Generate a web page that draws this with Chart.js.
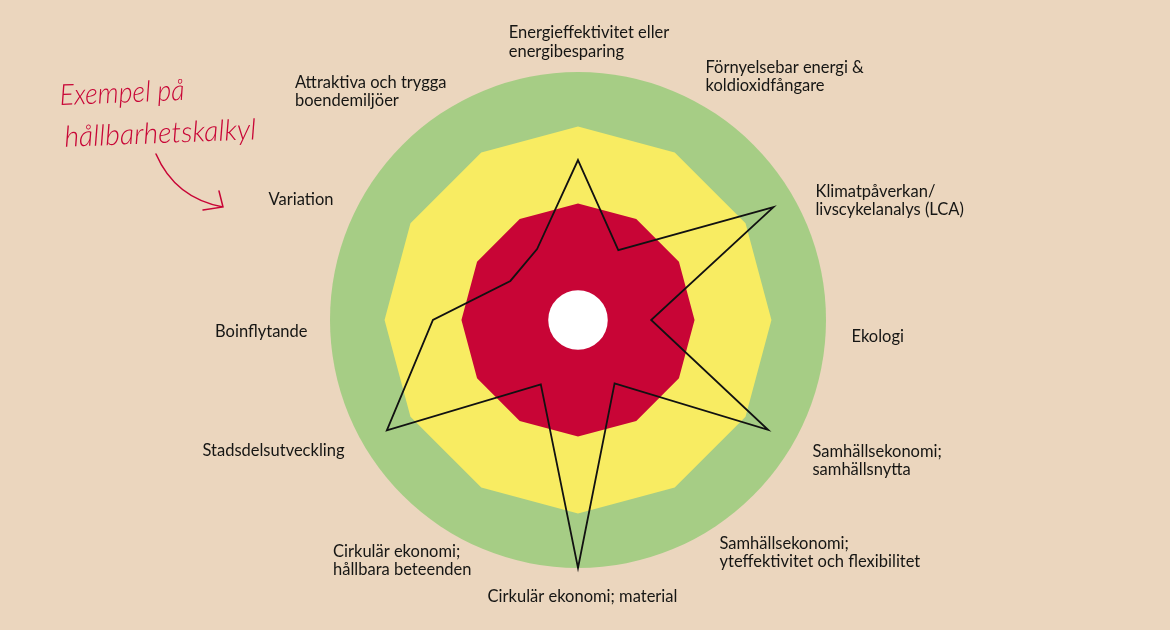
<!DOCTYPE html>
<html>
<head>
<meta charset="utf-8">
<title>Exempel på hållbarhetskalkyl</title>
<script src="https://cdn.jsdelivr.net/npm/chart.js@4.4.1/dist/chart.umd.min.js"></script>
<style>
  html, body { margin: 0; padding: 0; background: #ebd6be; }
  canvas { display: block; }
</style>
</head>
<body>
<canvas id="radarChart" width="1170" height="630"></canvas>
<script>
// axes, clockwise from the top
const labels = [
  ['Energieffektivitet eller', 'energibesparing'],
  ['Förnyelsebar energi &', 'koldioxidfångare'],
  ['Klimatpåverkan/', 'livscykelanalys (LCA)'],
  ['Ekologi'],
  ['Samhällsekonomi;', 'samhällsnytta'],
  ['Samhällsekonomi;', 'yteffektivitet och flexibilitet'],
  ['Cirkulär ekonomi; material'],
  ['Cirkulär ekonomi;', 'hållbara beteenden'],
  ['Stadsdelsutveckling'],
  ['Boinflytande'],
  ['Variation'],
  ['Attraktiva och trygga', 'boendemiljöer']
];
const scores = [6.45, 3.25, 9.1, 2.95, 8.85, 2.95, 10, 3.0, 8.9, 5.85, 3.15, 3.3];
const yellowZone = [7.8, 7.8, 7.8, 7.8, 7.8, 7.8, 7.8, 7.8, 7.8, 7.8, 7.8, 7.8];
const redZone = [4.7, 4.7, 4.7, 4.7, 4.7, 4.7, 4.7, 4.7, 4.7, 4.7, 4.7, 4.7];
const centerValue = 1.2;
const scaleMax = 10;

// where each label block sits next to the end of its axis: [align, dx, dy to block top]
const labelPlace = [
  ['center', 11, -48.5],
  ['left', 3.5, -47],
  ['left', 22.7, -13.75],
  ['left', 25.5, 7.25],
  ['left', 19.7, -1.75],
  ['left', 17.5, -0.5],
  ['center', 4.5, 19.75],
  ['right', 17.5, 7.5],
  ['right', -18.7, -2.75],
  ['right', -22.5, 2.25],
  ['right', -29.7, -5.75],
  ['right', -7.5, -32]
];
const LH = 18.5;

const RED = '#c80536';

const centerDot = {
  id: 'centerDot',
  afterDatasetsDraw(chart) {
    const r = chart.scales.r;
    const ctx = chart.ctx;
    ctx.save();
    ctx.beginPath();
    ctx.arc(r.xCenter, r.yCenter, r.getDistanceFromCenterForValue(centerValue), 0, Math.PI * 2);
    ctx.fillStyle = '#ffffff';
    ctx.fill();
    ctx.restore();
  }
};

const axisLabels = {
  id: 'axisLabels',
  afterDraw(chart) {
    const r = chart.scales.r;
    const ctx = chart.ctx;
    const outer = r.getDistanceFromCenterForValue(scaleMax);
    ctx.save();
    ctx.font = '16.5px Lato';
    ctx.fillStyle = '#161614';
    ctx.textBaseline = 'middle';
    ctx.textAlign = 'left';
    labels.forEach((lines, i) => {
      const p = r.getPointPosition(i, outer);
      const [align, dx, dy] = labelPlace[i];
      const w = Math.max(...lines.map(l => ctx.measureText(l).width));
      let x = p.x + dx;
      if (align === 'right') x -= w;
      if (align === 'center') x -= w / 2;
      lines.forEach((line, k) => ctx.fillText(line, x, p.y + dy + LH * (k + 0.5)));
    });
    ctx.restore();
  }
};

// the handwritten note with its arrow
const note = {
  id: 'note',
  afterDraw(chart) {
    const ctx = chart.ctx;
    ctx.save();
    ctx.fillStyle = RED;
    ctx.strokeStyle = RED;
    ctx.font = 'italic 300 29px Lato';
    ctx.textBaseline = 'alphabetic';
    ctx.translate(60, 105);
    ctx.rotate(-0.04);
    ctx.fillText('Exempel på', 0, 0, 125);
    ctx.fillText('hållbarhetskalkyl', 3, 42, 192);
    ctx.restore();

    ctx.save();
    ctx.strokeStyle = RED;
    ctx.lineWidth = 1.5;
    ctx.lineCap = 'round';
    ctx.beginPath();
    ctx.moveTo(156, 154);
    ctx.quadraticCurveTo(175, 198, 223, 207);
    ctx.moveTo(203, 210);
    ctx.lineTo(223, 207);
    ctx.lineTo(219, 191);
    ctx.stroke();
    ctx.restore();
  }
};

const ctx = document.getElementById('radarChart').getContext('2d');
const myChart = new Chart(ctx, {
  type: 'radar',
  data: {
    labels: labels,
    datasets: [{
      label: 'Bedömning',
      data: scores,
      fill: false,
      borderColor: '#111111',
      borderWidth: 1.8,
      pointRadius: 0
    }, {
      label: 'Röd zon',
      data: redZone,
      fill: true,
      backgroundColor: RED,
      borderWidth: 0,
      pointRadius: 0
    }, {
      label: 'Gul zon',
      data: yellowZone,
      fill: true,
      backgroundColor: '#f8ec62',
      borderWidth: 0,
      pointRadius: 0
    }]
  },
  options: {
    responsive: false,
    animation: false,
    layout: {
      padding: { top: 72, bottom: 62, left: 0, right: 14 }
    },
    plugins: {
      legend: { display: false },
      tooltip: { enabled: false }
    },
    elements: {
      line: { tension: 0 }
    },
    scales: {
      r: {
        min: 0,
        max: scaleMax,
        backgroundColor: '#a6cd85',
        grid: { display: false, circular: true },
        angleLines: { display: false },
        ticks: { display: false },
        pointLabels: { display: false }
      }
    }
  },
  plugins: [centerDot, axisLabels, note]
});
</script>
</body>
</html>
